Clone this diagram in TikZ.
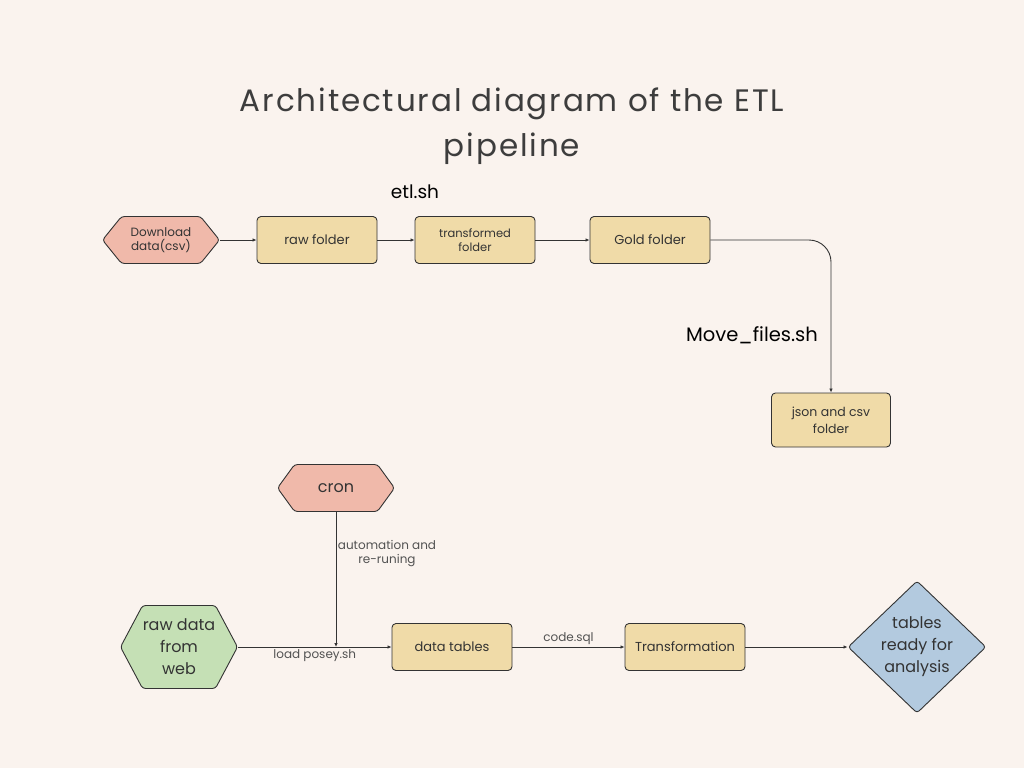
\documentclass[tikz,border=0pt]{standalone}
\usepackage{fontspec}
\setmainfont{Poppins}
\usetikzlibrary{shapes.geometric,shapes.symbols,arrows.meta,positioning}

\definecolor{paper}{HTML}{FAF3EE}
\definecolor{folderfill}{HTML}{F0DBA8}
\definecolor{startfill}{HTML}{F0B9AA}
\definecolor{webfill}{HTML}{C5E0B5}
\definecolor{endfill}{HTML}{B3CADF}
\definecolor{ink}{HTML}{333333}

\begin{document}
\begin{tikzpicture}[
  x=1pt, y=-1pt,
  folder/.style={draw=ink, fill=folderfill, rounded corners=4pt, line width=0.9pt,
    minimum width=120pt, minimum height=47pt, align=center, text=ink,
    font=\fontsize{13}{16}\selectfont},
  hexa/.style={signal, signal to=west and east, draw=ink, line width=0.9pt,
    rounded corners=3pt, inner sep=0pt, minimum width=117pt, minimum height=47pt,
    align=center, text=ink},
  finish/.style={diamond, draw=ink, fill=endfill, line width=0.9pt, rounded corners=3pt,
    inner sep=0pt, minimum width=138pt, minimum height=125pt, align=center, text=ink,
    font=\fontsize{16}{22}\selectfont},
  arr/.style={draw=ink, line width=0.9pt, -{Latex[length=4pt,width=3.5pt]}},
  lbl/.style={font=\fontsize{12}{14}\selectfont, text=ink!85, align=center},
  script/.style={font=\fontsize{18.5}{22}\selectfont, text=black},
]

% background / page size
\fill[paper] (0,0) rectangle (1024,768);

% title
\node[font=\fontsize{31}{45}\selectfont\addfontfeatures{LetterSpace=6}, text=ink!95,
  align=center] (title) at (512,126) {Architectural diagram of the ETL\\pipeline};

% ============================================================
% etl.sh pipeline (top)
% ============================================================
\node[script] (etl) at (415,192) {etl.sh};

\node[hexa, fill=startfill, signal pointer angle=102,
  font=\fontsize{12}{14}\selectfont] (download) at (161,240) {Download\\data(csv)};
\node[folder] (raw) at (317,240) {raw folder};
\node[folder, font=\fontsize{11.5}{14}\selectfont] (transformed) at (475,240)
  {transformed\\folder};
\node[folder] (gold) at (650,240) {Gold folder};
\node[folder, minimum width=119pt, minimum height=54pt,
  font=\fontsize{12.5}{17}\selectfont] (json) at (831,420) {json and csv\\folder};

\node[script, font=\fontsize{19.5}{22}\selectfont] (move) at (752,335) {Move\_files.sh};

\draw[arr] (download.east) -- (raw.west);
\draw[arr] (raw.east) -- (transformed.west);
\draw[arr] (transformed.east) -- (gold.west);
\draw[arr, rounded corners=22pt] (gold.east) -| (json.north);

% ============================================================
% cron / sql pipeline (bottom)
% ============================================================
\node[hexa, fill=startfill, signal pointer angle=108,
  font=\fontsize{16}{20}\selectfont] (cron) at (336,488) {cron};
\node[hexa, fill=webfill, signal pointer angle=124, minimum height=83pt,
  font=\fontsize{16}{22}\selectfont] (web) at (179,647) {raw data\\from\\web};
\node[folder] (tables) at (452,647) {data tables};
\node[folder] (transf) at (685,647) {Transformation};
\node[finish] (ready) at (917,647) {tables\\ready for\\analysis};

\coordinate (hit) at (cron.south |- web.east);

\draw[arr] (web.east) -- node[lbl, below=-1pt] {load posey.sh} (tables.west);
\draw[arr] (cron.south) -- (hit);
\node[lbl] (auto) at (387,554) {automation and\\re-runing};
\draw[arr] (tables.east) -- node[lbl, above=-1pt] {code.sql} (transf.west);
\draw[arr] (transf.east) -- (ready.west);

\end{tikzpicture}
\end{document}
